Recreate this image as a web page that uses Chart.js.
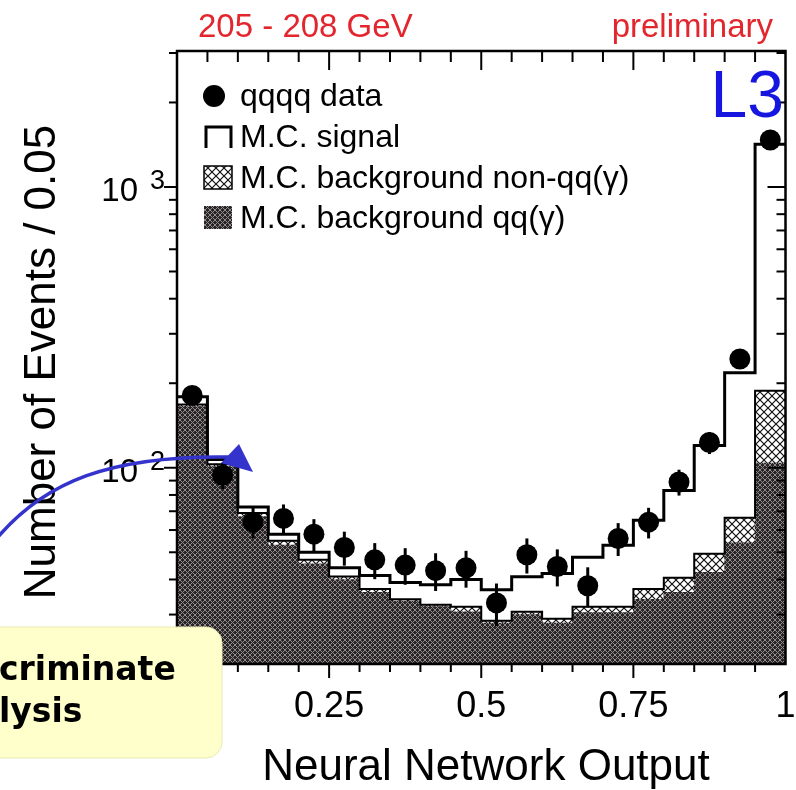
<!DOCTYPE html>
<html>
<head>
<meta charset="utf-8">
<script src="https://cdn.jsdelivr.net/npm/chart.js@4.4.1/dist/chart.umd.min.js"></script>
<style>
  html, body { margin: 0; padding: 0; background: #fff; }
</style>
</head>
<body>
<canvas id="grafico-nn" width="796" height="790"></canvas>
<script>
// bins of width 0.05 on the neural network output
var binEdges = [0, 0.05, 0.1, 0.15, 0.2, 0.25, 0.3, 0.35, 0.4, 0.45, 0.5,
                0.55, 0.6, 0.65, 0.7, 0.75, 0.8, 0.85, 0.9, 0.95, 1];
var binCenters = [0.025, 0.075, 0.125, 0.175, 0.225, 0.275, 0.325, 0.375, 0.425, 0.475,
                  0.525, 0.575, 0.625, 0.675, 0.725, 0.775, 0.825, 0.875, 0.925, 0.975];

// events per bin
var qqqqData   = [181, 94, 64, 66, 58, 52, 47, 45, 43, 44, 33, 49, 44.5, 38, 56, 64, 89, 123, 244, 1470];
var qqqqErrors = [13, 10, 8, 8, 7.6, 7.2, 6.9, 6.7, 6.6, 6.6, 5.7, 7, 6.7, 6.2, 7.5, 8, 9.4, 11.1, 15.6, 38];
var bgQq       = [165, 101, 67, 53, 45.5, 40, 36, 33.5, 32, 30.7, 28, 30, 28, 30.5, 30.5, 34, 36, 42.4, 54, 104];
var bgNonQq    = [3, 2, 2, 2, 1.5, 1, 1, 0.5, 0.5, 1.3, 0.5, 0.7, 1, 1.5, 1.5, 3, 4.6, 7, 12.4, 84];
var mcSignal   = [11, 4, 3.5, 3, 3, 3, 4.3, 5, 5.8, 8, 8.3, 10.2, 13, 16, 21, 28, 42.4, 70.6, 151.6, 1232];

var xTickValues = [0.25, 0.5, 0.75, 1];
var xTickLabels = ['0.25', '0.5', '0.75', '1'];
var yTickValues = [100, 1000];
var yTickExps   = ['2', '3'];
var yMinorTicks = [20, 30, 40, 50, 60, 70, 80, 90, 200, 300, 400, 500, 600, 700, 800, 900, 2000, 3000];

var canvas = document.getElementById('grafico-nn');
var ctx = canvas.getContext('2d');

function hatch(bg, fg, size, lw) {
    var c = document.createElement('canvas');
    c.width = size; c.height = size;
    var g = c.getContext('2d');
    g.fillStyle = bg;
    g.fillRect(0, 0, size, size);
    g.strokeStyle = fg;
    g.lineWidth = lw;
    g.beginPath();
    g.moveTo(0, 0); g.lineTo(size, size);
    g.moveTo(size, 0); g.lineTo(0, size);
    g.stroke();
    return ctx.createPattern(c, 'repeat');
}
var qqPattern = hatch('#2b2426', '#8e8b8c', 5, 1);
var nonQqPattern = hatch('#ffffff', '#111111', 8, 1.2);

var bgTotal = bgQq.map(function(v, i) { return v + bgNonQq[i]; });
var mcTotal = bgTotal.map(function(v, i) { return v + mcSignal[i]; });

function perBin(values) {
    return binCenters.map(function(x, i) { return { x: x, y: values[i] }; });
}
function steps(values) {
    var pts = values.map(function(v, i) { return { x: binEdges[i], y: v }; });
    pts.push({ x: binEdges[values.length], y: values[values.length - 1] });
    return pts;
}

function line(x1, y1, x2, y2) {
    ctx.beginPath(); ctx.moveTo(x1, y1); ctx.lineTo(x2, y2); ctx.stroke();
}

var errorBars = {
    id: 'errorBars',
    afterDatasetsDraw: function(chart) {
        var xs = chart.scales.x, ys = chart.scales.y;
        ctx.save();
        ctx.strokeStyle = '#000';
        ctx.lineWidth = 3;
        qqqqData.forEach(function(v, i) {
            var x = xs.getPixelForValue(binCenters[i]);
            line(x, ys.getPixelForValue(v - qqqqErrors[i]), x, ys.getPixelForValue(v + qqqqErrors[i]));
        });
        ctx.restore();
    }
};

var decoracao = {
    id: 'decoracao',
    afterDraw: function(chart) {
        var ca = chart.chartArea, xs = chart.scales.x, ys = chart.scales.y;
        var sans = '"Liberation Sans", Arial, sans-serif';
        ctx.save();
        ctx.strokeStyle = '#000';
        ctx.fillStyle = '#000';

        // frame
        ctx.lineWidth = 2.5;
        ctx.strokeRect(ca.left, ca.top, ca.right - ca.left, ca.bottom - ca.top);

        // y ticks: outside on the left, inside on the right
        ctx.lineWidth = 2;
        yMinorTicks.forEach(function(v) {
            var y = ys.getPixelForValue(v);
            line(ca.left - 8, y, ca.left, y);
            line(ca.right - 9, y, ca.right, y);
        });
        yTickValues.forEach(function(v) {
            var y = ys.getPixelForValue(v);
            line(ca.left - 13, y, ca.left, y);
            line(ca.right - 18, y, ca.right, y);
        });

        // x ticks: inside at the top, outside at the bottom
        for (var k = 1; k < 20; k++) {
            var x = xs.getPixelForValue(k * 0.05);
            var major = k % 5 === 0;
            line(x, ca.top, x, ca.top + (major ? 19 : 11));
            line(x, ca.bottom, x, ca.bottom + (major ? 14 : 8));
        }

        // tick labels
        ctx.font = '36px ' + sans;
        ctx.textAlign = 'center';
        ctx.textBaseline = 'alphabetic';
        xTickValues.forEach(function(v, i) {
            ctx.fillText(xTickLabels[i], xs.getPixelForValue(v), 717);
        });
        yTickValues.forEach(function(v, i) {
            var y = ys.getPixelForValue(v);
            ctx.font = '33px ' + sans;
            ctx.textAlign = 'right';
            ctx.fillText('10', 138, y + 14);
            ctx.font = '27px ' + sans;
            ctx.textAlign = 'left';
            ctx.fillText(yTickExps[i], 150, y + 2);
        });

        // axis titles
        ctx.font = '44px ' + sans;
        ctx.textAlign = 'center';
        ctx.fillText('Neural Network Output', 486, 780);
        ctx.save();
        ctx.translate(55, 362);
        ctx.rotate(-Math.PI / 2);
        ctx.fillText('Number of Events / 0.05', 0, 0);
        ctx.restore();

        // header
        ctx.fillStyle = '#e3262d';
        ctx.font = '33px ' + sans;
        ctx.textAlign = 'left';
        ctx.fillText('205 - 208 GeV', 198, 37);
        ctx.textAlign = 'right';
        ctx.fillText('preliminary', 773, 37);
        ctx.fillStyle = '#1616e0';
        ctx.font = '66px ' + sans;
        ctx.fillText('L3', 784, 117);

        // legend
        ctx.fillStyle = '#000';
        ctx.font = '32px ' + sans;
        ctx.textAlign = 'left';
        ctx.beginPath();
        ctx.arc(214, 96, 11, 0, 2 * Math.PI);
        ctx.fill();
        ctx.fillText('qqqq data', 240, 106);
        ctx.lineWidth = 3;
        ctx.beginPath();
        ctx.moveTo(206, 148); ctx.lineTo(206, 127); ctx.lineTo(231, 127); ctx.lineTo(231, 148);
        ctx.stroke();
        ctx.fillText('M.C. signal', 240, 147);
        ctx.fillStyle = nonQqPattern;
        ctx.fillRect(204, 166, 28, 23);
        ctx.lineWidth = 1.5;
        ctx.strokeRect(204, 166, 28, 23);
        ctx.fillStyle = '#000';
        ctx.fillText('M.C. background non-qq(\u03b3)', 240, 188);
        ctx.fillStyle = qqPattern;
        ctx.fillRect(204, 206, 28, 23);
        ctx.fillStyle = '#000';
        ctx.fillText('M.C. background qq(\u03b3)', 240, 228);

        // blue arrow
        ctx.strokeStyle = '#3434cc';
        ctx.fillStyle = '#3434cc';
        ctx.lineWidth = 3.5;
        ctx.beginPath();
        ctx.moveTo(-2, 537);
        ctx.bezierCurveTo(45, 482, 110, 455, 230, 457);
        ctx.stroke();
        ctx.beginPath();
        ctx.moveTo(221, 463); ctx.lineTo(239, 444); ctx.lineTo(253, 472);
        ctx.closePath();
        ctx.fill();

        // yellow note box
        ctx.fillStyle = '#ffffcc';
        ctx.strokeStyle = '#e9e9b4';
        ctx.lineWidth = 1;
        ctx.beginPath();
        ctx.roundRect(-20, 627, 242, 131, 16);
        ctx.fill();
        ctx.stroke();
        ctx.fillStyle = '#000';
        ctx.font = 'bold 33px "DejaVu Sans", sans-serif';
        ctx.textAlign = 'left';
        ctx.fillText('criminate', -1, 680);
        ctx.fillText('lysis', -1, 722);

        ctx.restore();
    }
};

new Chart(ctx, {
    type: 'bar',
    data: {
        datasets: [
            { type: 'bar', label: 'M.C. background qq(\u03b3)', data: perBin(bgQq),
              backgroundColor: qqPattern, borderWidth: 0, stack: 'mc', order: 2,
              barPercentage: 1, categoryPercentage: 1 },
            { type: 'bar', label: 'M.C. background non-qq(\u03b3)', data: perBin(bgNonQq),
              backgroundColor: nonQqPattern, borderWidth: 0, stack: 'mc', order: 3,
              barPercentage: 1, categoryPercentage: 1 },
            { type: 'bar', label: 'M.C. signal', data: perBin(mcSignal),
              backgroundColor: '#ffffff', borderWidth: 0, stack: 'mc', order: 4,
              barPercentage: 1, categoryPercentage: 1 },
            { type: 'line', label: 'M.C. background', data: steps(bgTotal), stepped: 'before',
              borderColor: '#000', borderWidth: 2, pointRadius: 0, fill: false, stack: 'bgline', order: 1 },
            { type: 'line', label: 'M.C. total', data: steps(mcTotal), stepped: 'before',
              borderColor: '#000', borderWidth: 3, pointRadius: 0, fill: false, stack: 'mcline', order: 1 },
            { type: 'line', label: 'qqqq data', data: perBin(qqqqData), showLine: false,
              pointRadius: 10.5, pointBackgroundColor: '#000', pointBorderWidth: 0,
              stack: 'data', order: 0 }
        ]
    },
    options: {
        responsive: false,
        animation: false,
        layout: { padding: { left: 177, top: 51, right: 4, bottom: 126 } },
        scales: {
            x: { type: 'linear', display: false, min: 0, max: 1, offset: false, stacked: true,
                 ticks: { stepSize: 0.05 } },
            y: { type: 'logarithmic', display: false, min: 20, max: 3050, stacked: true }
        },
        plugins: {
            legend: { display: false },
            tooltip: { enabled: false }
        }
    },
    plugins: [errorBars, decoracao]
});
</script>
</body>
</html>
